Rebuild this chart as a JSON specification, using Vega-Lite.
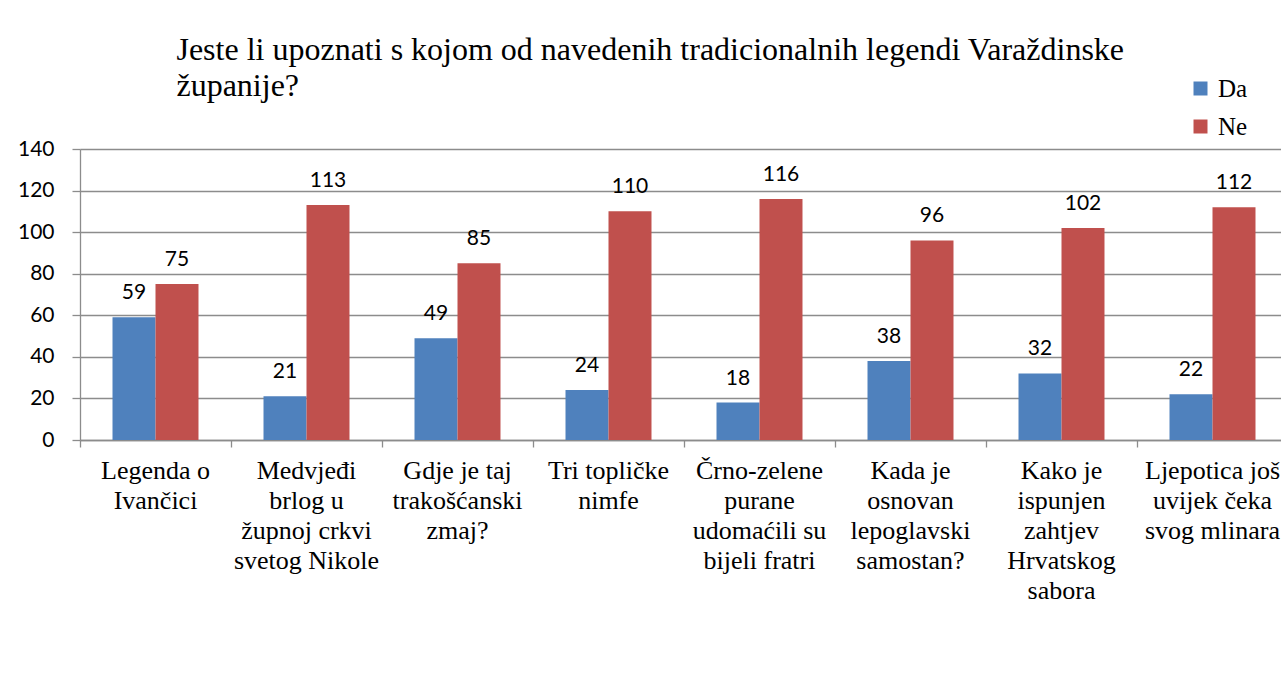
{
  "$schema": "https://vega.github.io/schema/vega-lite/v6.json",
  "width": 1201,
  "height": 291,
  "autosize": {"type": "none"},
  "padding": {"left": 80, "top": 149, "right": 0, "bottom": 253},
  "background": "white",
  "title": {
    "text": ["Jeste li upoznati s kojom od navedenih tradicionalnih legendi Varaždinske", "županije?"],
    "anchor": "start",
    "dx": 159,
    "dy": 69,
    "font": "Liberation Serif",
    "fontSize": 32,
    "fontWeight": "normal",
    "color": "black",
    "lineHeight": 36,
    "offset": 42
  },
  "data": {
    "values": [
      {"legenda": "Legenda o\nIvančici", "odgovor": "Da", "broj": 59},
      {"legenda": "Legenda o\nIvančici", "odgovor": "Ne", "broj": 75},
      {"legenda": "Medvjeđi\nbrlog u\nžupnoj crkvi\nsvetog Nikole", "odgovor": "Da", "broj": 21},
      {"legenda": "Medvjeđi\nbrlog u\nžupnoj crkvi\nsvetog Nikole", "odgovor": "Ne", "broj": 113},
      {"legenda": "Gdje je taj\ntrakošćanski\nzmaj?", "odgovor": "Da", "broj": 49},
      {"legenda": "Gdje je taj\ntrakošćanski\nzmaj?", "odgovor": "Ne", "broj": 85},
      {"legenda": "Tri topličke\nnimfe", "odgovor": "Da", "broj": 24},
      {"legenda": "Tri topličke\nnimfe", "odgovor": "Ne", "broj": 110},
      {"legenda": "Črno-zelene\npurane\nudomaćili su\nbijeli fratri", "odgovor": "Da", "broj": 18},
      {"legenda": "Črno-zelene\npurane\nudomaćili su\nbijeli fratri", "odgovor": "Ne", "broj": 116},
      {"legenda": "Kada je\nosnovan\nlepoglavski\nsamostan?", "odgovor": "Da", "broj": 38},
      {"legenda": "Kada je\nosnovan\nlepoglavski\nsamostan?", "odgovor": "Ne", "broj": 96},
      {"legenda": "Kako je\nispunjen\nzahtjev\nHrvatskog\nsabora", "odgovor": "Da", "broj": 32},
      {"legenda": "Kako je\nispunjen\nzahtjev\nHrvatskog\nsabora", "odgovor": "Ne", "broj": 102},
      {"legenda": "Ljepotica još\nuvijek čeka\nsvog mlinara", "odgovor": "Da", "broj": 22},
      {"legenda": "Ljepotica još\nuvijek čeka\nsvog mlinara", "odgovor": "Ne", "broj": 112}
    ]
  },
  "encoding": {
    "xOffset": {"field": "odgovor", "type": "nominal", "scale": {"paddingOuter": 0.756, "paddingInner": 0}},
    "y": {
      "field": "broj",
      "type": "quantitative",
      "scale": {"domain": [0, 140], "nice": false},
      "axis": {
        "title": null,
        "values": [0, 20, 40, 60, 80, 100, 120, 140],
        "labelFont": "Lato",
        "labelFontSize": 21,
        "labelColor": "black",
        "labelPadding": 18,
        "tickSize": 8,
        "tickColor": "#8c8c8c",
        "tickWidth": 1.3,
        "domainColor": "#8c8c8c",
        "domainWidth": 1.3,
        "grid": true,
        "gridColor": "#8c8c8c",
        "gridWidth": 1.3
      }
    }
  },
  "layer": [
    {
      "mark": {"type": "bar"},
      "encoding": {
        "x": {
          "field": "legenda",
          "type": "nominal",
          "sort": null,
          "scale": {"paddingInner": 0, "paddingOuter": 0, "range": [0, 1208]},
          "axis": {
            "title": null,
            "orient": "bottom",
            "labelExpr": "split(datum.label, '\\n')",
            "labelFont": "Liberation Serif",
            "labelFontSize": 26,
            "labelLineHeight": 30,
            "labelColor": "black",
            "labelAngle": 0,
            "labelBaseline": "top",
            "labelPadding": 17,
            "labelOverlap": false,
            "labelLimit": 400,
            "ticks": false,
            "grid": false,
            "domainColor": "#8c8c8c",
            "domainWidth": 1.3,
            "encode": {"labels": {"update": {"font": {"value": "Liberation Serif"}}}}
          }
        },
        "color": {
          "field": "odgovor",
          "type": "nominal",
          "scale": {"domain": ["Da", "Ne"], "range": ["#4F81BD", "#C0504D"]},
          "legend": {
            "title": null,
            "orient": "none",
            "legendX": 1108,
            "legendY": -73,
            "symbolType": "square",
            "symbolSize": 196,
            "symbolStrokeWidth": 0,
            "labelFont": "Liberation Serif",
            "labelFontSize": 25,
            "labelColor": "black",
            "labelOffset": 5,
            "rowPadding": 12
          }
        }
      }
    },
    {
      "mark": {"type": "text", "baseline": "alphabetic", "dy": -18, "font": "Lato", "fontSize": 21, "color": "black"},
      "encoding": {
        "x": {
          "field": "legenda",
          "type": "nominal",
          "sort": null,
          "axis": {
            "title": null,
            "orient": "bottom",
            "labels": false,
            "domain": false,
            "grid": false,
            "ticks": true,
            "tickSize": 7,
            "tickColor": "#8c8c8c",
            "tickWidth": 1.3,
            "bandPosition": 0
          }
        },
        "text": {"field": "broj", "type": "quantitative"}
      }
    }
  ],
  "resolve": {"axis": {"x": "independent"}},
  "config": {
    "view": {"stroke": null},
    "axisX": {"labelFont": "Liberation Serif", "labelFontSize": 26, "labelColor": "black"}
  }
}
